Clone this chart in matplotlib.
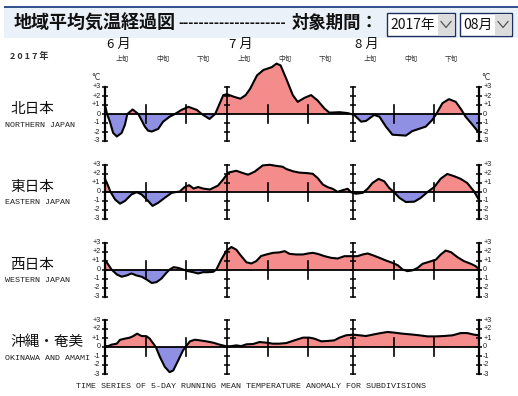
import matplotlib
matplotlib.use("Agg")
import matplotlib.pyplot as plt
from matplotlib.patches import Rectangle
from matplotlib import transforms

# ---------------- data (days since 1 June, anomaly in degC) ----------------
regions_ja = ["北日本", "東日本", "西日本", "沖縄・奄美"]
regions_en = ["NORTHERN JAPAN", "EASTERN JAPAN", "WESTERN JAPAN", "OKINAWA AND AMAMI"]

north_days = [0, 0.5, 1.2, 2.0, 2.9, 4.1, 4.9, 5.5, 6.8, 8.2, 9.8, 10.6, 11.5, 13.1, 14.3,
              15.9, 17.2, 18.8, 20.5, 22.6, 23.8, 25.7, 27.1, 29.1, 30.0, 31.8, 33.3, 34.6,
              35.7, 37.4, 39.0, 41.0, 42.2, 43.2, 44.6, 46.2, 47.4, 49.1, 50.7, 52.3, 54.0,
              55.2, 57.7, 59.7, 61.3, 63.0, 64.2, 66.2, 67.5, 69.1, 70.7, 74.0, 75.6, 78.9,
              80.5, 81.5, 83.0, 84.6, 86.3, 87.7, 88.7, 90.4, 92.0]
north_vals = [1.0, 0.0, -0.85, -2.1, -2.5, -2.1, -1.2, 0.0, 0.5, 0.0, -1.4, -1.85, -1.95, -1.65, -0.85,
              -0.3, 0.0, 0.45, 0.8, 0.45, 0.0, -0.55, 0.0, 2.1, 2.2, 1.9, 1.7, 2.1,
              2.8, 4.3, 4.9, 5.2, 5.6, 5.4, 3.9, 2.1, 1.35, 1.8, 2.1, 1.5, 0.6,
              0.15, 0.2, 0.1, -0.1, -0.85, -0.77, -0.1, -0.3, -1.4, -2.3, -2.4, -1.9, -1.4,
              -0.66, 0.0, 1.2, 1.65, 1.35, 0.45, -0.3, -1.2, -2.1]

east_days = [0, 0.8, 1.3, 2.5, 3.7, 4.9, 6.5, 7.8, 9.0, 10.6, 11.7, 13.1, 14.7, 16.4, 17.4,
             18.4, 19.6, 20.7, 21.8, 22.9, 24.1, 25.8, 27.8, 29.0, 30.3, 32.3, 33.9, 35.2,
             36.8, 38.8, 40.5, 42.1, 43.7, 44.6, 46.2, 47.8, 49.5, 51.1, 52.3, 53.6, 54.8,
             56.0, 57.2, 58.5, 59.7, 60.5, 61.7, 63.4, 64.6, 65.8, 67.3, 68.7, 69.9, 71.1,
             72.4, 74.0, 76.1, 77.7, 79.3, 81.0, 82.6, 84.2, 85.9, 87.5, 89.1, 90.8, 92.0]
east_vals = [1.4, 0.6, 0.0, -0.9, -1.35, -1.05, -0.33, -0.07, -0.33, -1.05, -1.6, -1.25, -0.7, -0.15, -0.07,
             0.0, 0.5, 0.7, 0.33, 0.5, 0.33, 0.22, 0.66, 1.3, 2.1, 2.3, 2.05, 1.87,
             2.2, 2.9, 2.97, 2.85, 2.75, 2.5, 2.25, 2.1, 2.05, 1.97, 1.5, 0.77, 0.48,
             0.3, -0.04, 0.15, 0.3, -0.07, -0.25, -0.15, 0.3, 0.95, 1.4, 1.13, 0.4, -0.07,
             -0.7, -1.17, -1.13, -0.7, -0.07, 0.5, 1.43, 1.95, 1.7, 1.4, 0.95, 0.0, -0.95]

west_days = [0, 0.8, 1.6, 2.9, 4.1, 5.3, 6.5, 7.8, 9.0, 10.2, 11.5, 12.7, 13.9, 15.1, 15.9,
             16.9, 18.0, 19.2, 20.4, 21.7, 22.9, 24.1, 25.3, 26.6, 27.4, 28.6, 29.9, 31.1,
             32.3, 33.5, 34.8, 36.0, 37.2, 38.4, 39.7, 41.3, 42.9, 44.2, 45.4, 47.0, 48.7,
             49.9, 51.1, 52.3, 54.0, 55.6, 57.2, 58.9, 60.5, 62.1, 63.4, 64.6, 65.8, 67.5,
             69.1, 70.7, 72.0, 73.2, 74.4, 75.6, 76.9, 78.1, 79.7, 81.4, 82.6, 83.8, 85.1,
             86.7, 88.3, 90.0, 91.2, 92.0]
west_vals = [1.04, 0.55, 0.0, -0.55, -0.8, -0.67, -0.44, -0.67, -0.8, -1.1, -1.5, -1.4, -1.0, -0.37, 0.0,
             0.26, 0.18, 0.0, -0.18, -0.3, -0.44, -0.3, -0.3, -0.26, 0.0, 1.1, 2.1, 2.5,
             2.2, 1.5, 0.8, 0.67, 0.93, 1.5, 1.67, 1.85, 1.9, 2.04, 1.74, 1.67, 1.67,
             1.78, 1.85, 1.74, 1.48, 1.3, 1.22, 1.48, 1.48, 1.48, 1.67, 1.78, 1.6, 1.3,
             1.0, 0.74, 0.48, 0.0, -0.18, -0.1, 0.18, 0.63, 0.85, 1.1, 1.67, 2.1, 1.93,
             1.37, 0.93, 0.63, 0.37, 0.0]

okinawa_days = [0, 0.8, 1.6, 2.9, 3.7, 4.9, 6.1, 6.9, 7.9, 9.0, 10.2, 11.0, 11.9, 12.5, 13.5,
                14.7, 15.9, 16.8, 18.0, 19.2, 19.8, 20.9, 22.1, 23.3, 24.9, 26.6, 28.2, 29.9,
                31.1, 32.3, 33.5, 34.8, 36.4, 38.0, 39.7, 41.3, 42.9, 44.6, 46.6, 48.7, 50.3,
                51.5, 53.2, 54.8, 56.4, 57.7, 59.3, 61.0, 62.6, 64.2, 65.8, 67.5, 69.5, 71.1,
                73.2, 75.2, 77.3, 79.3, 81.4, 83.4, 85.5, 87.5, 89.1, 90.8, 92.0]
okinawa_vals = [0.1, 0.1, 0.26, 0.37, 0.8, 0.93, 1.04, 1.2, 1.48, 1.22, 1.2, 0.93, 0.37, 0.0, -1.1,
                -2.2, -2.8, -2.6, -1.5, -0.37, 0.0, 0.63, 0.81, 0.74, 0.63, 0.48, 0.26, 0.07,
                0.1, 0.18, 0.1, 0.3, 0.33, 0.55, 0.48, 0.37, 0.37, 0.44, 0.74, 1.04, 1.04,
                0.93, 0.63, 0.67, 0.74, 1.04, 1.3, 1.37, 1.3, 1.22, 1.37, 1.52, 1.67, 1.6,
                1.48, 1.4, 1.3, 1.18, 1.18, 1.22, 1.3, 1.55, 1.55, 1.37, 1.3]

series = [(north_days, north_vals), (east_days, east_vals),
          (west_days, west_vals), (okinawa_days, okinawa_vals)]

month_labels = ["6 月", "7 月", "8 月"]
month_starts = [0, 30, 61]
period_end = 92
dekad_labels = ["上旬", "中旬", "下旬"]
dekad_starts = [0, 10, 20, 30, 40, 50, 61, 71, 81]
ytick_labels = ["+3", "+2", "+1", "0", "-1", "-2", "-3"]
ytick_vals = [3, 2, 1, 0, -1, -2, -3]

# ---------------- figure ----------------
W, H = 518, 396
fig = plt.figure(figsize=(W / 100, H / 100), dpi=100)
fig.patch.set_facecolor("white")

def fx(px):
    return px / W

def fy(py):
    return 1 - py / H

JA = ["Noto Sans CJK JP", "DejaVu Sans"]
MONO = ["Liberation Mono", "DejaVu Sans Mono"]

# header band
fig.patches.append(Rectangle((fx(4), fy(38)), fx(514), 30 / H, transform=fig.transFigure,
                             facecolor="#eaf1f9", edgecolor="none", zorder=0))
fig.patches.append(Rectangle((fx(4), fy(8)), fx(514), 2.5 / H, transform=fig.transFigure,
                             facecolor="#34548e", edgecolor="none", zorder=1))
fig.text(fx(14), fy(23), "地域平均気温経過図", family=JA, fontsize=13, fontweight="bold",
         va="center", ha="left", color="#111")
fig.text(fx(178), fy(24), "-" * 21, family=["DejaVu Sans"], fontsize=9, fontweight="bold",
         va="center", ha="left", color="#111")
fig.text(fx(292), fy(23), "対象期間：", family=JA, fontsize=12.5, fontweight="bold",
         va="center", ha="left", color="#111")

def dropdown(x0, x1, label):
    fig.patches.append(Rectangle((fx(x0), fy(36)), (x1 - x0) / W, 23 / H, transform=fig.transFigure,
                                 facecolor="white", edgecolor="#1c2f5e", lw=1.0, zorder=2))
    fig.patches.append(Rectangle((fx(x1 - 17), fy(35)), 16 / W, 21 / H, transform=fig.transFigure,
                                 facecolor="#dcdcdc", edgecolor="none", zorder=3))
    cx, cy = x1 - 9, 24.5
    fig.lines.append(plt.Line2D([fx(cx - 5), fx(cx), fx(cx + 5)], [fy(cy - 3), fy(cy + 3), fy(cy - 3)],
                                transform=fig.transFigure, color="#555", lw=0.9, zorder=4))
    fig.text(fx(x0 + 3), fy(24.5), label, family=JA, fontsize=10, va="center", ha="left",
             color="#111", zorder=4)

dropdown(387, 455, "2017年")
dropdown(460, 512, "08月")

fig.text(fx(10), fy(56), "2 0 1 7 年", family=JA, fontsize=6.5, fontweight="bold",
         va="center", ha="left", color="#333")

# ---------------- panels ----------------
left_px, right_px = 105, 479
scale = 9.0  # px per degC
zeros_px = [114, 191.5, 269.5, 347]
half = 3.5
RED = "#f58c8c"
BLUE = "#8f8fe4"

axes = []
for i, (d, v) in enumerate(series):
    zp = zeros_px[i]
    ax = fig.add_axes([fx(left_px), (H - zp - half * scale) / H,
                       (right_px - left_px) / W, 2 * half * scale / H])
    ax.set_xlim(0, period_end)
    ax.set_ylim(-half, half)
    ax.axis("off")
    ax.patch.set_alpha(0)
    ax.fill_between(d, v, 0, where=[y >= 0 for y in v], interpolate=True,
                    facecolor=RED, edgecolor="none", zorder=1, clip_on=False)
    ax.fill_between(d, v, 0, where=[y <= 0 for y in v], interpolate=True,
                    facecolor=BLUE, edgecolor="none", zorder=1, clip_on=False)
    ax.plot([0, period_end], [0, 0], color="black", lw=1.3, zorder=2, clip_on=False)
    ax.plot(d, v, color="black", lw=1.5, zorder=3, clip_on=False, solid_joinstyle="round")
    # vertical axes (ends and month boundaries)
    for xv, lw in [(0, 1.6), (month_starts[1], 1.2), (month_starts[2], 1.2), (period_end, 1.6)]:
        ax.plot([xv, xv], [-3, 3], color="black", lw=lw, zorder=4, clip_on=False)
        ax.plot([xv] * len(ytick_vals), ytick_vals, ls="none", marker="_", ms=5, mew=1.1,
                color="black", zorder=4, clip_on=False)
    # dekad ticks
    for xv in dekad_starts:
        if xv in (0, 30, 61):
            continue
        ax.plot([xv, xv], [-1, 1], color="black", lw=1.2, zorder=4, clip_on=False)
    # y tick labels
    for lab, yv in zip(ytick_labels, ytick_vals):
        ax.annotate(lab, (0, yv), xytext=(-3.3, 0), textcoords="offset points",
                    ha="right", va="center", fontsize=5.2, family=["Liberation Sans"], color="#222")
        ax.annotate(lab, (period_end, yv), xytext=(3.0, 0), textcoords="offset points",
                    ha="left", va="center", fontsize=5.2, family=["Liberation Sans"], color="#222")
    # region labels
    fig.text(fx(10), fy(zp - 5), regions_ja[i], family=JA, fontsize=10.5,
             ha="left", va="center", color="#111")
    fig.text(fx(5), fy(zp + 11.5), regions_en[i], family=MONO, fontsize=6,
             ha="left", va="center", color="#222")
    axes.append(ax)

# degC marks on top panel
axes[0].annotate("°C", (0, 3), xytext=(-3, 6.5), textcoords="offset points",
                 ha="right", va="center", fontsize=5.5, family=["DejaVu Sans"], color="#222")
axes[0].annotate("°C", (period_end, 3), xytext=(1.5, 6.5), textcoords="offset points",
                 ha="left", va="center", fontsize=5.5, family=["DejaVu Sans"], color="#222")

# month and dekad labels above the top panel
bt = transforms.blended_transform_factory(axes[0].transData, fig.transFigure)
for lab, ms in zip(month_labels, month_starts):
    fig.text(ms + 3.5, fy(44), lab, transform=bt, family=JA, fontsize=9.5,
             ha="center", va="center", color="#111")
for k, ds in enumerate(dekad_starts):
    fig.text(ds + 4.2, fy(59), dekad_labels[k % 3], transform=bt, family=JA, fontsize=4.8,
             ha="center", va="center", color="#333")

fig.text(fx(251), fy(386), "TIME SERIES OF 5-DAY RUNNING MEAN TEMPERATURE ANOMALY FOR SUBDIVISIONS",
         family=MONO, fontsize=6, ha="center", va="center", color="#222")

fig.savefig("out.png", dpi=100, facecolor="white")
